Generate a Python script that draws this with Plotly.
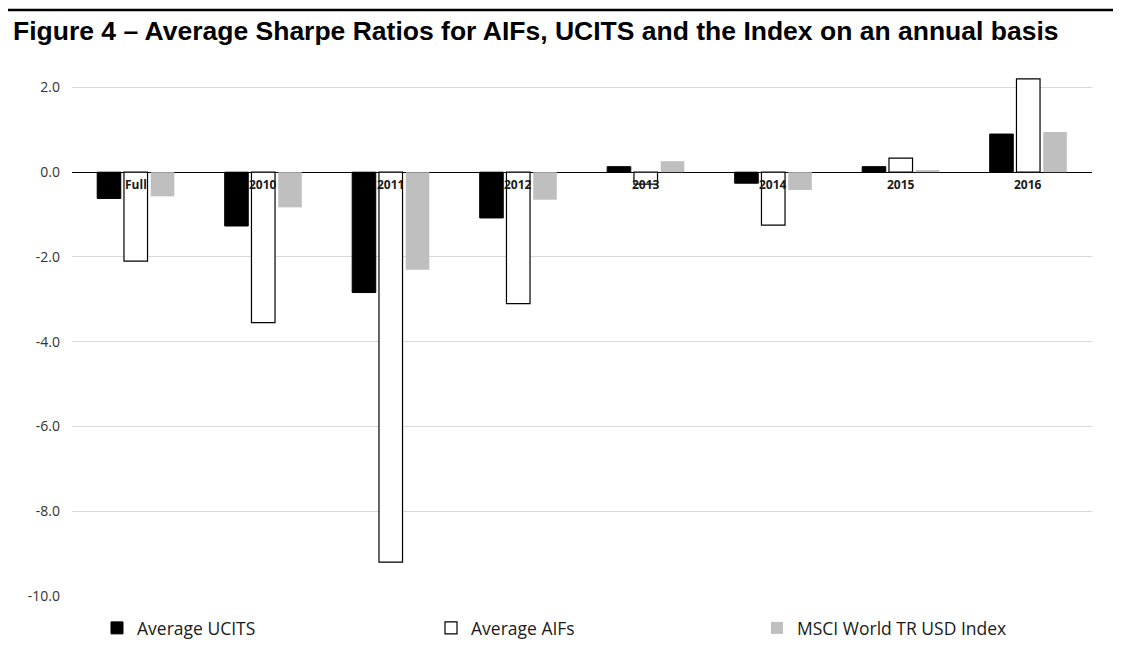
import plotly.graph_objects as go

categories = ["Full", "2010", "2011", "2012", "2013", "2014", "2015", "2016"]
ucits = [-0.62, -1.27, -2.84, -1.08, 0.13, -0.26, 0.13, 0.90]
aifs = [-2.10, -3.55, -9.20, -3.10, -0.28, -1.25, 0.33, 2.20]
msci = [-0.57, -0.83, -2.30, -0.65, 0.26, -0.42, 0.05, 0.95]
tick_vals = [2, 0, -2, -4, -6, -8, -10]
tick_text = ["2.0", "0.0", "-2.0", "-4.0", "-6.0", "-8.0", "-10.0"]

# page has an 8px body margin; work in figure pixels
OFF = 8
W, H = 1121 - OFF, 649 - OFF
L, R, T, B = 72 - OFF, 29, 62 - OFF, 53
pw, ph = W - L - R, H - T - B


def py(page_y):
    """page pixel y -> paper y"""
    return (H - B - (page_y - OFF)) / ph


def px(page_x):
    return (page_x - OFF - L) / pw


fig = go.Figure()
fig.add_trace(go.Bar(name="Average UCITS", x=categories, y=ucits, legend="legend", showlegend=True,
                     marker=dict(color="#000000", line=dict(color="#000000", width=1))))
fig.add_trace(go.Bar(name="Average AIFs", x=categories, y=aifs, legend="legend2", showlegend=True,
                     marker=dict(color="#ffffff", line=dict(color="#000000", width=1.2))))
fig.add_trace(go.Bar(name="MSCI World TR USD Index", x=categories, y=msci, legend="legend3", showlegend=True,
                     marker=dict(color="#bfbfbf", line=dict(color="#bfbfbf", width=0))))

annotations = []
for i, c in enumerate(categories):
    annotations.append(dict(x=i, y=0, xref="x", yref="y", text="<b>%s</b>" % c,
                            showarrow=False, yanchor="top", yshift=-2,
                            font=dict(family="Open Sans, Liberation Sans", size=12, color="#1a1a1a")))
annotations.append(dict(x=px(11), y=py(31), xref="paper", yref="paper",
                        xanchor="left", yanchor="middle", showarrow=False,
                        text="<b>Figure 4 \u2013 Average Sharpe Ratios for AIFs, UCITS and the Index on an annual basis</b>",
                        font=dict(family="Liberation Sans, Arial", size=26.5, color="#000000")))


def leg(page_x):
    return dict(orientation="h", x=px(page_x), y=py(628),
                xanchor="left", yanchor="middle", bgcolor="rgba(0,0,0,0)",
                font=dict(family="Open Sans, Liberation Sans", size=17.5, color="#1a1a1a"),
                itemwidth=30)


fig.update_layout(
    width=W, height=H,
    showlegend=True,
    margin=dict(l=L, r=R, t=T, b=B, autoexpand=False),
    paper_bgcolor="white", plot_bgcolor="white",
    barmode="group", bargap=0.37, bargroupgap=0.12,
    font=dict(family="Open Sans, Liberation Sans", size=12, color="#404040"),
    xaxis=dict(type="category", range=[-0.5, 7.5], showticklabels=False,
               showgrid=False, zeroline=False, showline=False),
    yaxis=dict(range=[-10, 2.6], tickvals=tick_vals, ticktext=tick_text,
               showgrid=True, gridcolor="#d9d9d9", gridwidth=1,
               zeroline=True, zerolinecolor="#000000", zerolinewidth=1,
               showline=False, ticks="", ticklabelstandoff=11,
               tickfont=dict(size=14, color="#333333")),
    legend=leg(97),
    legend2=leg(431),
    legend3=leg(757),
    annotations=annotations,
    shapes=[dict(type="line", xref="paper", yref="paper",
                 x0=-L / pw, x1=1 + R / pw, y0=py(10), y1=py(10),
                 line=dict(color="#000000", width=2.5))],
)

fig.write_html("out.html")
